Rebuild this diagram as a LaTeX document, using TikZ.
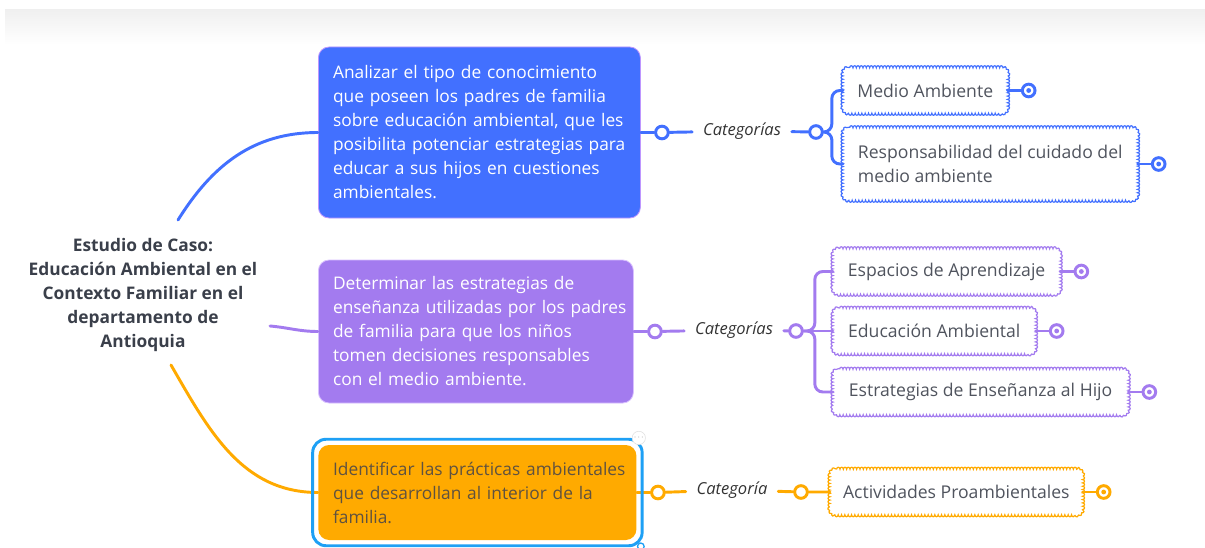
\documentclass[tikz,border=0pt]{standalone}
\usepackage{fontspec}
\setmainfont{Open Sans}
\usetikzlibrary{decorations.pathmorphing,positioning}

\definecolor{bluebr}{RGB}{66,112,255}
\definecolor{purplebr}{RGB}{163,123,239}
\definecolor{orangebr}{RGB}{255,170,0}
\definecolor{selblue}{RGB}{30,160,245}
\definecolor{rootgray}{RGB}{58,63,74}
\definecolor{leafgray}{RGB}{80,84,94}
\definecolor{framelila}{RGB}{190,150,255}
\definecolor{orangetext}{RGB}{95,82,64}

% scalloped frame round a leaf node
\newcommand{\scallop}[2]{%
  \draw[#2, line width=0.9pt, decorate, decoration={bumps, segment length=5pt, amplitude=1.5pt}]
    ([xshift=5pt]#1.north west) -- ([xshift=-5pt]#1.north east)
    arc[start angle=90, end angle=0, radius=5pt] -- ([yshift=5pt]#1.south east)
    arc[start angle=0, end angle=-90, radius=5pt] -- ([xshift=5pt]#1.south west)
    arc[start angle=270, end angle=180, radius=5pt] -- ([yshift=-5pt]#1.north west)
    arc[start angle=180, end angle=90, radius=5pt] -- cycle;}

\begin{document}
\begin{tikzpicture}[x=0.75pt, y=0.75pt,
  knob/.style={circle, draw=#1, fill=white, line width=2.2pt, minimum size=9.5pt, inner sep=0pt},
  endknob/.style={knob=#1, path picture={\fill[#1] (path picture bounding box.center) circle (1.8pt);}},
  leaf/.style={fill=white, anchor=west, minimum height=33.75pt, inner xsep=9pt, align=left,
    text=leafgray, font=\fontsize{13.2}{18}\selectfont},
  connect/.style={draw=#1, line width=2.2pt, line cap=round}]
		\tikzstyle{goal}=[rectangle, rounded corners=8pt, anchor=west, align=left, inner xsep=1pt, text=white, line width=0.6pt, font=\fontsize{13}{18}\selectfont, execute at begin node={\leftskip=10pt\hyphenpenalty=10000}]
		\tikzstyle{root}=[align=center, text=rootgray, font=\fontsize{13}{18}\selectfont\bfseries]
		\tikzstyle{tag}=[inner xsep=8pt, text=black!80, font=\fontsize{12.4}{14}\selectfont\itshape]

		\useasboundingbox (0,0) rectangle (1205,547);
		\fill[white] (0,0) rectangle (1205,547);
		\shade[top color=black!6, bottom color=white] (5,537) rectangle (1205,502);

		% central topic
		\node[root] (root) at (143,252) {Estudio de Caso:\\Educación Ambiental en el\\Contexto Familiar en el\\departamento de\\Antioquia};
		\coordinate (rb) at (178,327);
		\coordinate (rp) at (270,221);
		\coordinate (ro) at (171,182);

		% objectives
		\node[goal, fill=bluebr, draw=framelila, text width=239.5pt, minimum height=128.25pt] (gb) at (318,414.5) {Analizar el tipo de conocimiento\\que poseen los padres de familia\\sobre educación ambiental, que les\\posibilita potenciar estrategias para\\educar a sus hijos en cuestiones\\ambientales.};
		\node[goal, fill=purplebr, draw=framelila!60, text width=234.25pt, minimum height=107.25pt] (gp) at (318,215.5) {Determinar las estrategias de\\enseñanza utilizadas por los padres\\de familia para que los niños\\tomen decisiones responsables\\con el medio ambiente.};
		\node[goal, fill=orangebr, text=orangetext, text width=236.5pt, minimum height=71.25pt] (go) at (318,54.5) {Identificar las prácticas ambientales\\que desarrollan al interior de la\\familia.};

		\draw[connect=bluebr] (rb) to[out=58,in=180] (gb.west);
		\draw[connect=purplebr] (rp) to[out=-5,in=180] (gp.west);
		\draw[connect=orangebr] (ro) to[out=-60,in=180] (go.west);

		% blue branch
		\node[knob=bluebr, right=10pt of gb] (bc1) {};
		\node[tag] (bt) at (742,416) {Categorías};
		\node[knob=bluebr] (bc2) at (816,415) {};
		\node[leaf, minimum width=123pt] (ma) at (843,456.5) {Medio Ambiente};
		\node[leaf, minimum width=220.5pt, minimum height=54pt] (rc) at (843,383) {Responsabilidad del cuidado del\\medio ambiente};
		\scallop{ma}{bluebr}
		\scallop{rc}{bluebr}
		\node[endknob=bluebr, right=10pt of ma] (mae) {};
		\node[endknob=bluebr, right=10pt of rc] (rce) {};
		\draw[connect=bluebr] (gb) -- (bc1) -- (bt) -- (bc2);
		\draw[connect=bluebr, rounded corners=6pt] (bc2.east) -| ++(8,20) |- (ma.west);
		\draw[connect=bluebr, rounded corners=6pt] (bc2.east) -| ++(8,-15) |- (rc.west);
		\draw[connect=bluebr] (ma) -- (mae);
		\draw[connect=bluebr] (rc) -- (rce);

		% purple branch
		\node[knob=purplebr, right=10pt of gp] (pc1) {};
		\node[tag] (pt) at (734,217) {Categorías};
		\node[knob=purplebr] (pc2) at (796,216) {};
		\node[leaf, minimum width=170pt] (sp) at (833,275.5) {Espacios de Aprendizaje};
		\node[leaf, minimum width=151.5pt] (ea) at (833,216) {Educación Ambiental};
		\node[leaf, minimum width=221pt] (eh) at (833,155) {Estrategias de Enseñanza al Hijo};
		\scallop{sp}{purplebr}
		\scallop{ea}{purplebr}
		\scallop{eh}{purplebr}
		\node[endknob=purplebr, right=10pt of sp] (spe) {};
		\node[endknob=purplebr, right=10pt of ea] (eae) {};
		\node[endknob=purplebr, right=10pt of eh] (ehe) {};
		\draw[connect=purplebr] (gp) -- (pc1) -- (pt) -- (pc2);
		\draw[connect=purplebr, rounded corners=6pt] (pc2.east) -| ++(11,30) |- (sp.west);
		\draw[connect=purplebr] (pc2) -- (ea);
		\draw[connect=purplebr, rounded corners=6pt] (pc2.east) -| ++(11,-30) |- (eh.west);
		\draw[connect=purplebr] (sp) -- (spe);
		\draw[connect=purplebr] (ea) -- (eae);
		\draw[connect=purplebr] (eh) -- (ehe);

		% orange branch
		\node[knob=orangebr, right=10pt of go] (oc1) {};
		\node[tag] (ot) at (732,57) {Categoría};
		\node[knob=orangebr] (oc2) at (801,55) {};
		\node[leaf, minimum width=189pt] (ap) at (830,55) {Actividades Proambientales};
		\scallop{ap}{orangebr}
		\node[endknob=orangebr, right=10pt of ap] (ape) {};
		\draw[connect=orangebr] (go) -- (oc1) -- (ot) -- (oc2) -- (ap);
		\draw[connect=orangebr] (ap) -- (ape);

		% selection frame
		\draw[selblue, line width=2.2pt, rounded corners=10pt] ([shift={(-4pt,-4pt)}]go.south west) rectangle ([shift={(4pt,4pt)}]go.north east);
		\node[circle, draw=gray!25, fill=white, minimum size=10pt, inner sep=0pt, text=gray] (more) at ([shift={(1.5pt,5pt)}]go.north east) {\fontsize{6}{6}\selectfont$\cdot\!\cdot\!\cdot$};
		\node[circle, draw=selblue, fill=white, line width=1pt, minimum size=5pt, inner sep=0pt] (hnd) at ([shift={(3pt,-4.5pt)}]go.south east) {};
\end{tikzpicture}
\end{document}
